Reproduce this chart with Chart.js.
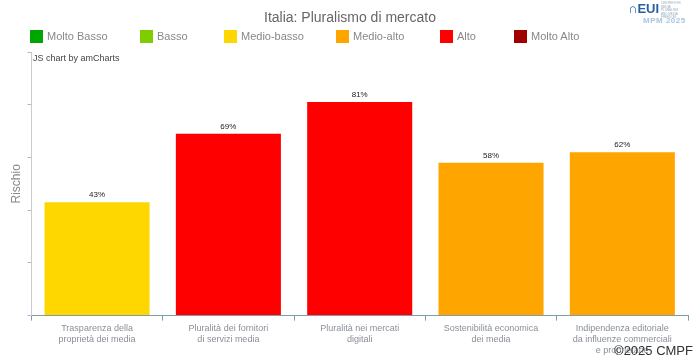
<!DOCTYPE html>
<html><head><meta charset="utf-8">
<script src="https://cdn.jsdelivr.net/npm/chart.js@4/dist/chart.umd.min.js"></script>
<style>
html,body{margin:0;padding:0;background:#fff;}
#wrap{position:relative;width:700px;height:357px;overflow:hidden;font-family:"Liberation Sans",Arial,sans-serif;}
#c{position:absolute;left:0;top:0;}
#title{position:absolute;left:0;width:700px;top:9px;text-align:center;font-size:14px;color:#666;}
.leg{position:absolute;top:30px;font-size:11px;color:#888;line-height:13px;white-space:nowrap;}
.leg span{display:inline-block;width:13px;height:13px;vertical-align:top;margin-right:4px;}
#am{position:absolute;left:33px;top:53px;font-size:9px;color:#444;}
#copy{position:absolute;right:7px;top:343px;font-size:13px;color:#333;}
#logo{position:absolute;left:628px;top:2px;color:#2a5f9e;font-weight:bold;font-size:13px;line-height:13px;}
#logo small{font-size:3px;color:#9ab;font-weight:normal;display:inline-block;width:22px;line-height:3.5px;vertical-align:top;margin-left:2px;}
#mpm{position:absolute;left:643px;top:16px;color:#a8c6e0;font-size:8px;font-weight:bold;letter-spacing:0.5px;}
</style></head>
<body><div id="wrap">
<canvas id="c" width="700" height="359"></canvas>
<div id="title">Italia: Pluralismo di mercato</div>
<div id="legend"></div>
<div id="am">JS chart by amCharts</div>
<div id="logo">∩EUI<small>CENTRE FOR MEDIA PLURALISM AND MEDIA FREEDOM</small></div>
<div id="mpm">MPM 2025</div>
<div id="copy">©2025 CMPF</div>
</div>
<script>
const categories = [
  ["Trasparenza della","proprietà dei media"],
  ["Pluralità dei fornitori","di servizi media"],
  ["Pluralità nei mercati","digitali"],
  ["Sostenibilità economica","dei media"],
  ["Indipendenza editoriale","da influenze commerciali","e proprietarie"]
];
const values = [43, 69, 81, 58, 62];
const barColors = ["#FFD700", "#FF0000", "#FF0000", "#FFA500", "#FFA500"];
const legendLabels = ["Molto Basso","Basso","Medio-basso","Medio-alto","Alto","Molto Alto"];
const legendColors = ["#00A600","#7FCC00","#FFD700","#FFA500","#FF0000","#A00000"];
const legendX = [30, 140, 224, 336, 440, 514];

const lg = document.getElementById('legend');
legendLabels.forEach((t,i)=>{
  const d=document.createElement('div');d.className='leg';d.style.left=legendX[i]+'px';
  d.innerHTML='<span style="background:'+legendColors[i]+'"></span>'+t;lg.appendChild(d);
});

const valueLabels = {
  id:'valueLabels',
  afterDatasetsDraw(chart){
    const ctx=chart.ctx;const meta=chart.getDatasetMeta(0);
    ctx.save();ctx.font='8px "Liberation Sans", Arial, sans-serif';ctx.fillStyle='#222';
    ctx.textAlign='center';ctx.textBaseline='bottom';
    meta.data.forEach((el,i)=>{ctx.fillText(values[i]+'%', el.x, el.y-3);});
    ctx.restore();
  }
};

new Chart(document.getElementById('c'),{
  type:'bar',
  data:{labels:categories,datasets:[{data:values,backgroundColor:barColors,borderWidth:0,categoryPercentage:0.8,barPercentage:1}]},
  options:{
    responsive:false,animation:false,
    layout:{padding:{left:9,right:12,top:52,bottom:0}},
    plugins:{legend:{display:false},tooltip:{enabled:false}},
    scales:{
      x:{
        grid:{offset:true,drawOnChartArea:false,drawTicks:true,tickLength:5,color:'#7d9cb0'},
        border:{color:'#7d9cb0',width:1},
        ticks:{color:'#8a8f96',font:{size:9,family:'"Liberation Sans", Arial, sans-serif'},padding:3,maxRotation:0,autoSkip:false}
      },
      y:{
        min:0,max:100,
        ticks:{stepSize:20,display:true,callback:()=> '',padding:0},
        grid:{drawOnChartArea:false,drawTicks:true,tickLength:4,color:'#bbb'},
        border:{color:'#c8ccd0',width:1},
        title:{display:true,text:'Rischio',color:'#888',font:{size:12,weight:'normal',family:'"Liberation Sans", Arial, sans-serif'},padding:{top:0,bottom:4}}
      }
    }
  },
  plugins:[valueLabels]
});
</script>
</body></html>
